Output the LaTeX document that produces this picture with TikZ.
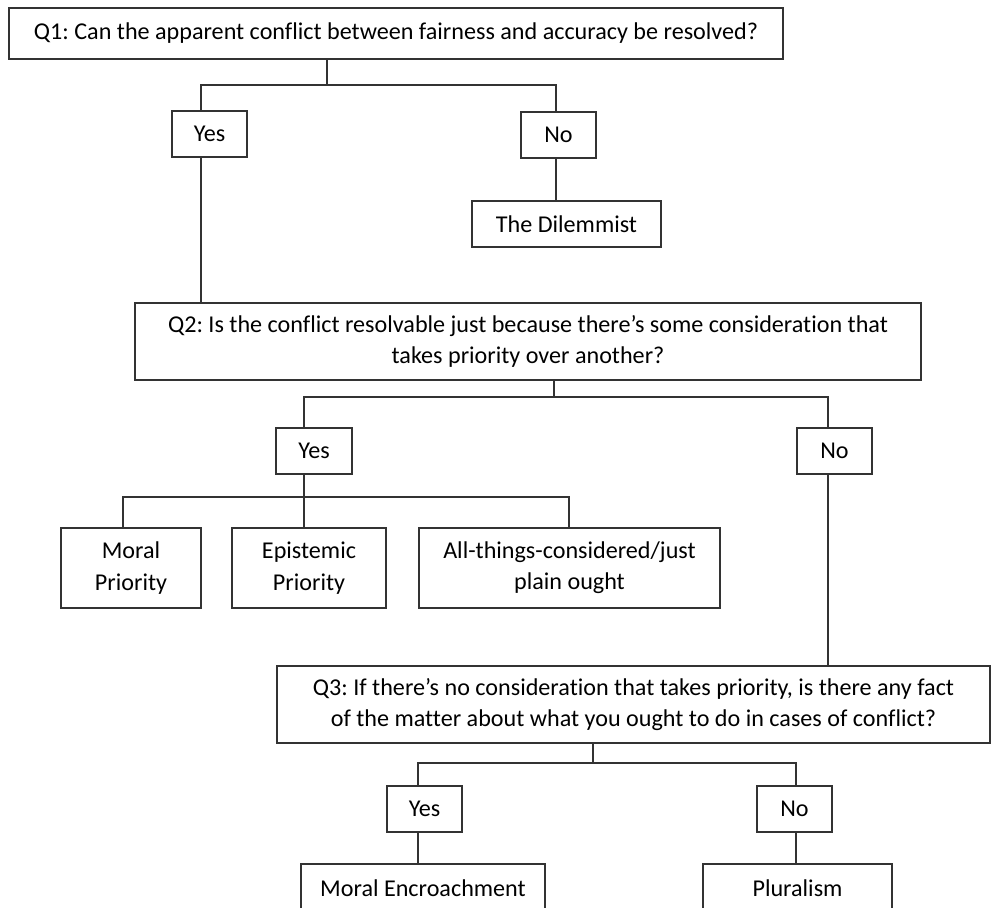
\documentclass[tikz,border=0pt]{standalone}
\usepackage{fontspec}
\setmainfont{Carlito}[Ligatures=NoCommon]
\begin{document}
\frenchspacing
\begin{tikzpicture}[x=0.75pt,y=-0.75pt,
  box/.style={draw=black!80, line width=0.9pt, fill=white, inner sep=0pt, align=center,
    font=\fontsize{18.1}{23.5}\selectfont, text=black},
  link/.style={draw=black!80, line width=0.9pt}]
\clip (0,0) rectangle (992,907);
\useasboundingbox (0,0) rectangle (992,907);
\fill[white] (0,0) rectangle (992,907);
% nodes
\node[box, minimum width=774*0.75pt, minimum height=51*0.75pt] (q1) at (396,33.5)
  {Q1: Can the apparent conflict between fairness and accuracy be resolved?};
\node[box, minimum width=75*0.75pt, minimum height=46*0.75pt] (y1) at (209.5,134) {Yes};
\node[box, minimum width=75*0.75pt, minimum height=46*0.75pt] (n1) at (558.5,135) {No};
\node[box, minimum width=189*0.75pt, minimum height=46*0.75pt] (dil) at (566.5,224) {The Dilemmist};
\node[box, minimum width=786*0.75pt, minimum height=77*0.75pt] (q2) at (528,341.5)
  {Q2: Is the conflict resolvable just because there’s some consideration that\\ takes priority over another?};
\node[box, minimum width=76*0.75pt, minimum height=46*0.75pt] (y2) at (314,451) {Yes};
\node[box, minimum width=75*0.75pt, minimum height=46*0.75pt] (n2) at (834.5,451) {No};
\node[box, minimum width=140*0.75pt, minimum height=80*0.75pt] (mp) at (131,568) {Moral\\ Priority};
\node[box, minimum width=154*0.75pt, minimum height=80*0.75pt] (ep) at (309,568) {Epistemic\\ Priority};
\node[box, minimum width=301*0.75pt, minimum height=80*0.75pt] (at) at (569.5,568) {All-things-considered/just\\ plain ought};
\node[box, minimum width=713*0.75pt, minimum height=77*0.75pt] (q3) at (633.5,704.5)
  {Q3: If there’s no consideration that takes priority, is there any fact\\ of the matter about what you ought to do in cases of conflict?};
\node[box, minimum width=75*0.75pt, minimum height=46*0.75pt] (y3) at (424.5,809) {Yes};
\node[box, minimum width=75*0.75pt, minimum height=46*0.75pt] (n3) at (794.5,809) {No};
\node[box, minimum width=244*0.75pt, minimum height=48*0.75pt] (me) at (423,888) {Moral Encroachment};
\node[box, minimum width=189*0.75pt, minimum height=48*0.75pt] (pl) at (797.5,888) {Pluralism};
% junction coordinates
\coordinate (j1) at (327,85);
\coordinate (a1) at (201,85);
\coordinate (b1) at (556,85);
\coordinate (j2) at (554,397);
\coordinate (a2) at (304,397);
\coordinate (b2) at (828,397);
\coordinate (j3) at (304,497);
\coordinate (c1) at (123,497);
\coordinate (c3) at (569,497);
\coordinate (j4) at (593,763);
\coordinate (a4) at (418,763);
\coordinate (b4) at (796,763);
% connectors
\draw[link] (q1.south -| j1) -- (j1);
\draw[link] (y1.north -| a1) -- (a1) -- (b1) -- (n1.north -| b1);
\draw[link] (n1.south -| b1) -- (dil.north -| b1);
\draw[link] (y1.south -| a1) -- (q2.north -| a1);
\draw[link] (q2.south -| j2) -- (j2);
\draw[link] (y2.north -| a2) -- (a2) -- (b2) -- (n2.north -| b2);
\draw[link] (y2.south -| j3) -- (j3);
\draw[link] (mp.north -| c1) -- (c1) -- (c3) -- (at.north -| c3);
\draw[link] (j3) -- (ep.north -| j3);
\draw[link] (n2.south -| b2) -- (q3.north -| b2);
\draw[link] (q3.south -| j4) -- (j4);
\draw[link] (y3.north -| a4) -- (a4) -- (b4) -- (n3.north -| b4);
\draw[link] (y3.south -| a4) -- (me.north -| a4);
\draw[link] (n3.south -| b4) -- (pl.north -| b4);
\end{tikzpicture}
\end{document}
